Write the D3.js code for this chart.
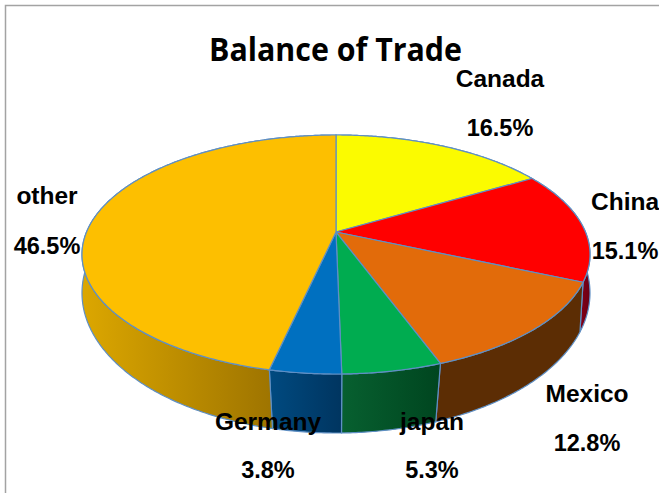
<!DOCTYPE html>
<html>
<head>
<meta charset="utf-8">
<script src="https://cdn.jsdelivr.net/npm/d3@7"></script>
<style>
html, body { margin: 0; padding: 0; background: #fff; overflow: hidden; }
svg { display: block; }
text { font-family: "Liberation Sans", Arial, sans-serif; font-weight: bold; fill: #000; }
</style>
</head>
<body>
<div id="chart"></div>
<script>
var categories = ["Canada", "China", "Mexico", "japan", "Germany", "other"]
var shares = [16.5, 15.1, 12.8, 5.3, 3.8, 46.5]
var shareLabels = ["16.5%", "15.1%", "12.8%", "5.3%", "3.8%", "46.5%"]
var topColors = ["#fbfb00", "#ff0000", "#e26b0a", "#00ac50", "#0070c0", "#fdbf00"]
var wallFrom = ["#9a9a00", "#8a0018", "#5c2d04", "#076030", "#004a80", "#dca700"]
var wallTo = ["#9a9a00", "#6a0014", "#5c2d04", "#00451f", "#003560", "#9e7400"]

var width = 659
var height = 493

// where the name and the percent of each slice sit
var nameX = [500, 625, 587, 432, 268, 47]
var nameY = [87, 210, 402, 430, 430, 204]
var pctX = [500, 625, 587, 432, 268, 47]
var pctY = [136, 259, 451, 478, 478, 254]

var svg = d3.select("#chart").append("svg")
    .attr("width", width)
    .attr("height", height)

// frame, only top and left show
svg.append("path")
    .attr("d", "M5.5 " + height + "V5.5H" + width)
    .attr("fill", "none")
    .attr("stroke", "#a3a3a3")
    .attr("stroke-width", 1.5)

// the pie is seen in perspective so the apex is not the ellipse centre
var topDisc = {cx: 336, cy: 254.5, rx: 254, ry: 119.5, lean: 0.188}
var baseDisc = {cx: 336, cy: 293, rx: 254, ry: 140, lean: 0.14}

function project(disc, angle, r) {
    var x = r * Math.sin(angle)
    var y = -r * Math.cos(angle)
    var w = 1 - disc.lean * y
    return [
        disc.cx + disc.rx * x * Math.sqrt(1 - disc.lean * disc.lean) / w,
        disc.cy + disc.ry * (y - disc.lean) / w
    ]
}

function rim(disc, a0, a1) {
    var n = Math.max(2, Math.ceil((a1 - a0) / 0.01))
    return d3.range(n + 1).map(function(i) {
        return project(disc, a0 + (a1 - a0) * i / n, 1)
    })
}

var pie = d3.pie().sort(null)
var arcs = pie(shares)
var line = d3.line()
var edge = "#5f8fc4"

var defs = svg.append("defs")

// walls first, the top face covers what is behind
arcs.forEach(function(d, i) {
    var upper = rim(topDisc, d.startAngle, d.endAngle)
    var lower = rim(baseDisc, d.startAngle, d.endAngle)
    var xs = upper.concat(lower).filter(function(p) { return p[1] > topDisc.cy - 5 }).map(function(p) { return p[0] })
    var ext = xs.length ? d3.extent(xs) : [0, 1]

    var grad = defs.append("linearGradient")
        .attr("id", "wall" + i)
        .attr("gradientUnits", "userSpaceOnUse")
        .attr("x1", ext[0]).attr("x2", ext[1])
        .attr("y1", 0).attr("y2", 0)
    grad.append("stop").attr("offset", 0).attr("stop-color", wallFrom[i])
    grad.append("stop").attr("offset", 1).attr("stop-color", wallTo[i])

    svg.append("path")
        .attr("d", line(upper.concat(lower.reverse())) + "Z")
        .attr("fill", "url(#wall" + i + ")")
        .attr("stroke", edge)
        .attr("stroke-width", 1.2)
})

// top face
var apex = project(topDisc, 0, 0)
arcs.forEach(function(d, i) {
    svg.append("path")
        .attr("d", line([apex].concat(rim(topDisc, d.startAngle, d.endAngle))) + "Z")
        .attr("fill", topColors[i])
        .attr("stroke", edge)
        .attr("stroke-width", 1.2)
        .attr("stroke-linejoin", "round")
})

svg.append("text")
    .attr("x", 335.5)
    .attr("y", 61)
    .attr("text-anchor", "middle")
    .attr("textLength", 253)
    .attr("lengthAdjust", "spacingAndGlyphs")
    .style("font-family", "'Open Sans', sans-serif")
    .style("font-size", "33px")
    .text("Balance of Trade")

categories.forEach(function(name, i) {
    svg.append("text")
        .attr("x", nameX[i]).attr("y", nameY[i])
        .attr("text-anchor", "middle")
        .style("font-size", "24.5px")
        .text(name)
    svg.append("text")
        .attr("x", pctX[i]).attr("y", pctY[i])
        .attr("text-anchor", "middle")
        .style("font-size", "23.5px")
        .text(shareLabels[i])
})
</script>
</body>
</html>
